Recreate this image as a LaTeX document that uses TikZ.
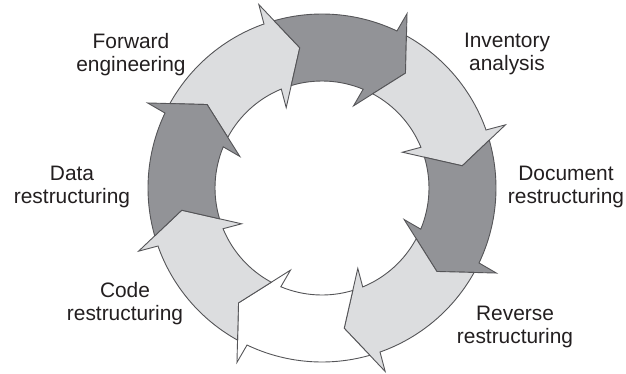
\documentclass[tikz,border=0pt]{standalone}
\usepackage{fontspec}
\setmainfont{Liberation Sans}
\definecolor{lightarr}{RGB}{220,221,223}
\definecolor{darkarr}{RGB}{146,147,151}
\definecolor{edgecol}{RGB}{85,85,88}
\definecolor{txt}{RGB}{35,31,32}
\tikzset{
  segment/.style={draw=edgecol, line width=0.9pt, line join=miter},
  lab/.style={align=center, text=txt, font=\fontsize{20.9}{23}\selectfont, inner sep=0pt}
}
\begin{document}
\begin{tikzpicture}[x=1pt,y=1pt]
\useasboundingbox[fill=white] (-322,-185) rectangle (304,188);
% eight arrow segments, tip angle / fill colour
\foreach \t/\c in {99/lightarr, 54/darkarr, 9/lightarr, -36/darkarr, -81/lightarr, -126/white, -171/lightarr, 144/darkarr}{
  \pgfmathsetmacro{\ts}{\t+45}
  \pgfmathsetmacro{\ea}{\ts+6.97}
  \pgfmathsetmacro{\aa}{\t+10.48}
  \pgfmathsetmacro{\ba}{\t+10}
  \pgfmathsetmacro{\ca}{\t+15}
  \pgfmathsetmacro{\da}{\t+13.37}
  \pgfmathsetmacro{\fa}{\ts+7.72}
  \path[segment, fill=\c] (\ea:174) arc[start angle=\ea, end angle=\aa, radius=174]
     -- (\ba:194) -- (\t:142) -- (\ca:88) -- (\da:107)
     arc[start angle=\da, end angle=\fa, radius=107] -- (\ts:142) -- cycle;
}
\node[lab] (fwd) at (-191,133) {Forward\\engineering};
\node[lab] (inv) at (185,134) {Inventory\\analysis};
\node[lab] (doc) at (244,1) {Document\\restructuring};
\node[lab] (data) at (-250,1.5) {Data\\restructuring};
\node[lab] (code) at (-197,-116) {Code\\restructuring};
\node[lab] (rev) at (193,-138.5) {Reverse\\restructuring};
\end{tikzpicture}
\end{document}
